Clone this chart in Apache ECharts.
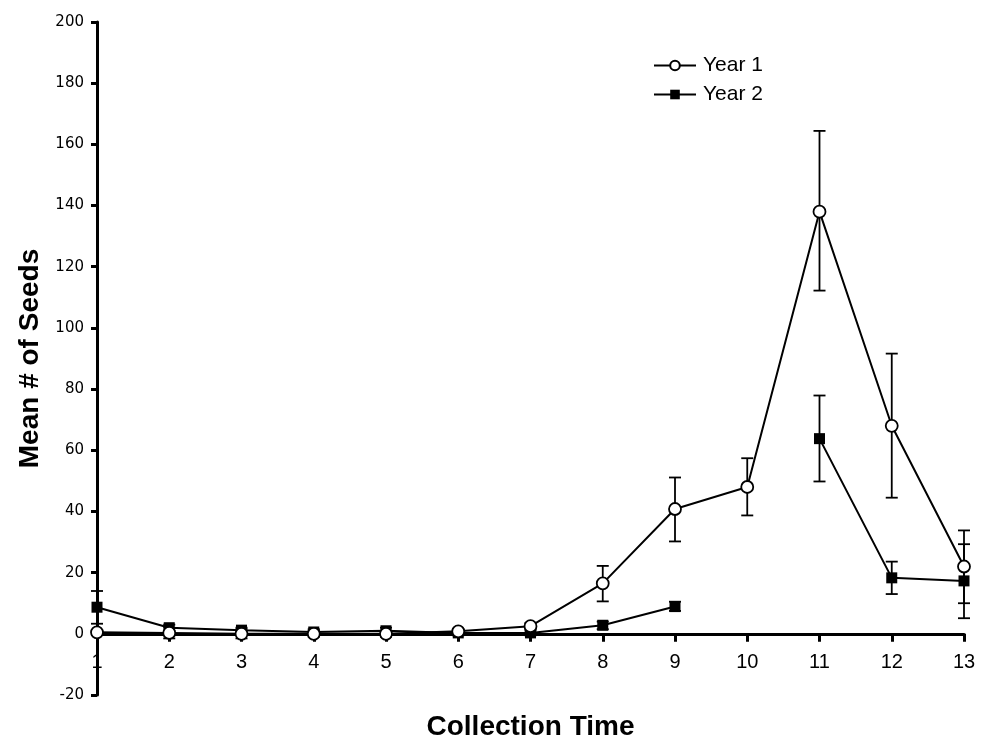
<!DOCTYPE html>
<html>
<head>
<meta charset="utf-8">
<script src="https://cdn.jsdelivr.net/npm/echarts@6/dist/echarts.min.js"></script>
<style>html,body{margin:0;padding:0;background:#fff}#c{width:984px;height:746px}</style>
</head>
<body>
<div id="c"></div>
<script>
var collectionTimes = [1,2,3,4,5,6,7,8,9,10,11,12,13];
var year1Mean = [0.5, 0.3, 0, 0, 0, 0.8, 2.5, 16.5, 40.8, 48, 138, 68, 22];
var year1Low  = [0, -1.5, -1.5, -1, -1, 0, 1.5, 10.6, 30.2, 38.7, 112.2, 44.5, 10.0];
var year1High = [1, 2, 1.5, 1, 1, 1.5, 3.5, 22.2, 51.1, 57.4, 164.4, 91.6, 33.8];
var year2Mean = [8.7, 2.0, 1.2, 0.6, 1.0, 0.3, 0.3, 2.8, 8.9, null, 63.8, 18.3, 17.3];
var year2Low  = [3.3, 1, 0.5, -0.5, 0, -0.5, -0.5, 1.5, 7.5, null, 49.8, 13.0, 5.1];
var year2High = [14.0, 3, 2, 1.5, 2, 1, 1, 4, 10.5, null, 77.9, 23.6, 29.3];
var yTicks = {min: -20, max: 200, step: 20};
var seriesNames = ['Year 1', 'Year 2'];

function pts(arr){ return collectionTimes.map(function(x,i){ return [x, arr[i]]; }); }
function errData(lo, hi){
  var out = [];
  collectionTimes.forEach(function(x,i){ if (lo[i] != null && hi[i] != null) out.push([x, lo[i], hi[i]]); });
  return out;
}
function renderErr(params, api){
  var x = api.value(0);
  var lo = api.coord([x, api.value(1)]);
  var hi = api.coord([x, api.value(2)]);
  var hw = 6;
  var st = {stroke: '#000', lineWidth: 1.8};
  return {type: 'group', children: [
    {type: 'line', shape: {x1: lo[0], y1: lo[1], x2: hi[0], y2: hi[1]}, style: st},
    {type: 'line', shape: {x1: lo[0]-hw, y1: lo[1], x2: lo[0]+hw, y2: lo[1]}, style: st},
    {type: 'line', shape: {x1: hi[0]-hw, y1: hi[1], x2: hi[0]+hw, y2: hi[1]}, style: st}
  ]};
}

var chart = echarts.init(document.getElementById('c'), null, {renderer: 'canvas'});
chart.setOption({
  animation: false,
  backgroundColor: '#fff',
  grid: {left: 97, right: 20, top: 22, bottom: 51, containLabel: false, outerBoundsMode: 'none'},
  legend: {
    orient: 'vertical', left: 648, top: 50, itemWidth: 42, itemHeight: 12, itemGap: 8,
    data: seriesNames,
    textStyle: {fontFamily: 'Liberation Sans', fontSize: 21, color: '#000', padding: [0,0,0,2]}
  },
  xAxis: {
    type: 'value', min: 1, max: 13, interval: 1,
    name: 'Collection Time', nameLocation: 'middle', nameGap: 18,
    nameTextStyle: {fontFamily: 'Liberation Sans', fontWeight: 'bold', fontSize: 28, color: '#000'},
    axisLine: {onZero: true, lineStyle: {color: '#000', width: 3}},
    axisTick: {inside: false, length: 8, lineStyle: {color: '#000', width: 3}},
    axisLabel: {fontFamily: 'Liberation Sans', fontSize: 20, color: '#000', margin: -43},
    splitLine: {show: false}
  },
  yAxis: {
    type: 'value', min: yTicks.min, max: yTicks.max, interval: yTicks.step,
    name: 'Mean # of Seeds', nameLocation: 'middle', nameGap: 46, nameRotate: 90,
    nameTextStyle: {fontFamily: 'Liberation Sans', fontWeight: 'bold', fontSize: 28, color: '#000'},
    axisLine: {show: true, lineStyle: {color: '#000', width: 3}},
    axisTick: {show: true, length: 6, lineStyle: {color: '#000', width: 3}},
    axisLabel: {fontFamily: 'DejaVu Sans', fontSize: 15, color: '#000', margin: 13},
    splitLine: {show: false}
  },
  series: [
    {type: 'custom', name: 'err1', renderItem: renderErr, data: errData(year1Low, year1High), z: 1, silent: true},
    {type: 'custom', name: 'err2', renderItem: renderErr, data: errData(year2Low, year2High), z: 1, silent: true},
    {type: 'line', name: seriesNames[1], data: pts(year2Mean), connectNulls: false,
     symbol: 'rect', symbolSize: 11, showAllSymbol: true,
     lineStyle: {color: '#000', width: 2}, itemStyle: {color: '#000', borderColor: '#000', borderWidth: 0}, z: 3},
    {type: 'line', name: seriesNames[0], data: pts(year1Mean),
     symbol: 'circle', symbolSize: 12, showAllSymbol: true,
     lineStyle: {color: '#000', width: 2}, itemStyle: {color: '#fff', borderColor: '#000', borderWidth: 1.8}, z: 4}
  ]
});
</script>
</body>
</html>
